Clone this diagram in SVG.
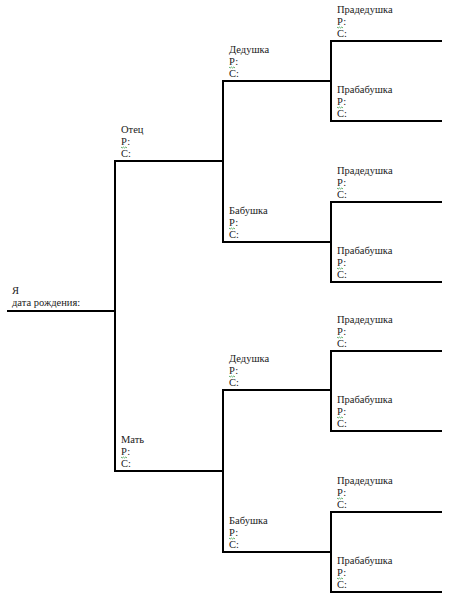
<svg xmlns="http://www.w3.org/2000/svg" width="449" height="599" viewBox="0 0 449 599">
<defs>
<style>
.t text{font-family:'Liberation Serif','DejaVu Serif',serif;font-size:10.5px;fill:#1a1a1a}
.ln{fill:none;stroke:#000;stroke-width:2;stroke-linecap:square}
.sq{fill:none;stroke:#3c9a4a;stroke-width:0.8}
</style>
<path id="squig" class="sq" d="M0 0 l1.2 1 l1.2 -1 l1.2 1 l1.2 -1 l1.2 1"/>
</defs>
<rect width="449" height="599" fill="#fff"/>
<g id="connectors">
<path class="ln" d="M8 311 H115 M115 161 V471"/>
<path class="ln" d="M115 161 H223 M223 81 V242 M115 471 H223 M223 390 V552"/>
<path class="ln" d="M223 81 H331 M331 41 V121 M223 242 H331 M331 202 V282 M223 390 H331 M331 351 V431 M223 552 H331 M331 512 V592"/>
<path class="ln" d="M331 41 H441 M331 121 H441 M331 202 H441 M331 282 H441 M331 351 H441 M331 431 H441 M331 512 H441 M331 592 H441"/>
</g>
<g class="t" font-family="Liberation Serif, DejaVu Serif, serif" font-size="10.5">
<g id="me"><text x="12" y="293.5">Я</text><text x="12" y="306">дата рождения:</text></g>
<g id="father"><text x="121" y="133">Отец</text><text x="121" y="145">Р:</text><use href="#squig" x="121" y="147"/><text x="121" y="157">С:</text></g>
<g id="mother"><text x="121" y="443">Мать</text><text x="121" y="455">Р:</text><use href="#squig" x="121" y="457"/><text x="121" y="467">С:</text></g>
<g id="grandfather1"><text x="229" y="53">Дедушка</text><text x="229" y="65">Р:</text><use href="#squig" x="229" y="67"/><text x="229" y="77">С:</text></g>
<g id="grandmother1"><text x="229" y="214">Бабушка</text><text x="229" y="226">Р:</text><use href="#squig" x="229" y="228"/><text x="229" y="238">С:</text></g>
<g id="grandfather2"><text x="229" y="362">Дедушка</text><text x="229" y="374">Р:</text><use href="#squig" x="229" y="376"/><text x="229" y="386">С:</text></g>
<g id="grandmother2"><text x="229" y="524">Бабушка</text><text x="229" y="536">Р:</text><use href="#squig" x="229" y="538"/><text x="229" y="548">С:</text></g>
<g id="ggf1"><text x="337" y="13">Прадедушка</text><text x="337" y="25">Р:</text><use href="#squig" x="337" y="27"/><text x="337" y="37">С:</text></g>
<g id="ggm1"><text x="337" y="93">Прабабушка</text><text x="337" y="105">Р:</text><use href="#squig" x="337" y="107"/><text x="337" y="117">С:</text></g>
<g id="ggf2"><text x="337" y="174">Прадедушка</text><text x="337" y="186">Р:</text><use href="#squig" x="337" y="188"/><text x="337" y="198">С:</text></g>
<g id="ggm2"><text x="337" y="254">Прабабушка</text><text x="337" y="266">Р:</text><use href="#squig" x="337" y="268"/><text x="337" y="278">С:</text></g>
<g id="ggf3"><text x="337" y="323">Прадедушка</text><text x="337" y="335">Р:</text><use href="#squig" x="337" y="337"/><text x="337" y="347">С:</text></g>
<g id="ggm3"><text x="337" y="403">Прабабушка</text><text x="337" y="415">Р:</text><use href="#squig" x="337" y="417"/><text x="337" y="427">С:</text></g>
<g id="ggf4"><text x="337" y="484">Прадедушка</text><text x="337" y="496">Р:</text><use href="#squig" x="337" y="498"/><text x="337" y="508">С:</text></g>
<g id="ggm4"><text x="337" y="564">Прабабушка</text><text x="337" y="576">Р:</text><use href="#squig" x="337" y="578"/><text x="337" y="588">С:</text></g>
</g>
</svg>
